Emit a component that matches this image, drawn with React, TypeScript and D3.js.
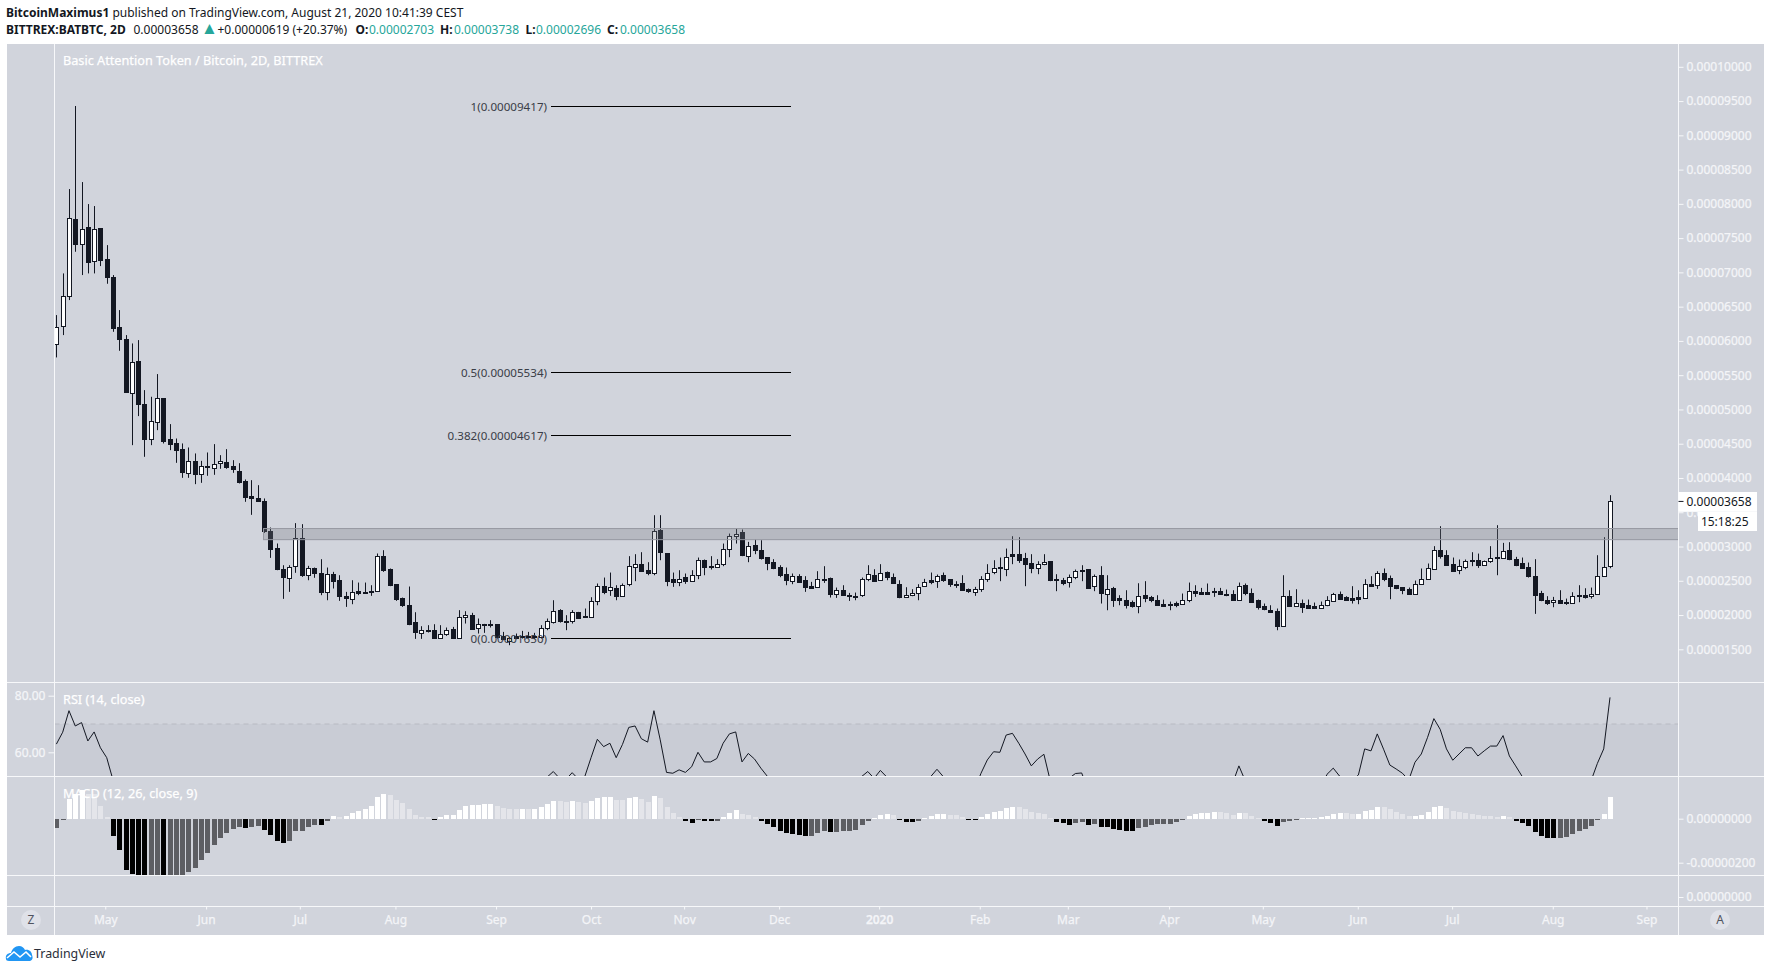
import React, { useEffect, useRef } from 'react';
import * as d3 from 'd3';

// prices are in 1e-8 BTC
const opens = [
  5963,6221,6644,7778,7408,7661,7155,7642,7189,6931,6201,6021,5243,5705,5078,4567,4805,5165,4567,4504,
  4416,4066,4241,4061,4182,4153,4212,4226,4168,4109,3954,3730,3701,3671,3229,2985,2679,2547,2703,3117,
  2591,2693,2620,2343,2606,2508,2285,2236,2353,2338,2358,2353,2868,2679,2450,2255,2153,1905,1740,1788,
  1788,1671,1725,1803,1671,1978,2007,1818,1871,1862,1862,1691,1623,1691,1691,1691,1691,1691,1812,1900,
  2071,1920,1920,2046,1983,1973,2207,2430,2367,2401,2280,2455,2703,2751,2654,2615,3238,2902,2523,2484,
  2552,2499,2586,2810,2713,2703,2747,2966,3155,3209,2863,3019,2946,2844,2771,2708,2596,2508,2576,2508,
  2430,2411,2532,2537,2309,2372,2299,2284,2294,2528,2591,2513,2635,2562,2460,2265,2294,2323,2425,2508,
  2499,2581,2523,2460,2464,2377,2338,2382,2528,2630,2698,2674,2888,2888,2829,2756,2688,2751,2785,2523,
  2508,2484,2557,2654,2669,2425,2581,2309,2391,2245,2226,2187,2134,2289,2260,2226,2167,2158,2172,2163,
  2226,2357,2343,2343,2357,2357,2313,2313,2226,2435,2328,2216,2129,2080,2066,1842,2284,2143,2182,2143,
  2129,2104,2148,2211,2314,2260,2245,2260,2250,2460,2440,2620,2537,2431,2406,2377,2314,2460,2528,2683,
  2956,2883,2752,2659,2713,2800,2800,2732,2790,2844,2834,2946,2824,2756,2698,2576,2318,2226,2197,2226,
  2197,2177,2299,2299,2284,2314,2576,2703,
];
const closes = [
  6206,6654,7788,7413,7627,7155,7627,7179,6922,6187,6031,5243,5696,5078,4567,4825,5160,4538,4494,4406,
  4075,4241,4056,4177,4172,4207,4241,4148,4119,3944,3725,3696,3662,3229,2966,2674,2557,2708,3117,2581,
  2693,2616,2338,2606,2508,2280,2250,2338,2319,2323,2338,2868,2669,2450,2226,2153,1876,1754,1784,1779,
  1667,1725,1784,1667,1973,2007,1808,1871,1857,1852,1667,1652,1667,1667,1671,1671,1671,1817,1915,2066,
  1910,1900,2046,1954,1973,2211,2430,2348,2411,2289,2445,2722,2751,2644,2615,3223,2922,2494,2484,2532,
  2494,2591,2810,2703,2698,2751,2970,3160,3189,2873,3014,2946,2829,2756,2683,2596,2508,2576,2494,2411,
  2406,2532,2523,2304,2372,2304,2280,2265,2532,2606,2508,2620,2557,2469,2265,2299,2328,2416,2484,2484,
  2576,2508,2455,2450,2362,2352,2387,2532,2620,2693,2688,2854,2859,2805,2747,2683,2751,2780,2508,2513,
  2464,2557,2649,2644,2391,2576,2318,2386,2216,2216,2158,2129,2284,2245,2216,2158,2143,2148,2143,2226,
  2353,2333,2318,2318,2338,2309,2304,2221,2430,2323,2202,2119,2080,2056,1842,2284,2143,2182,2129,2104,
  2099,2153,2216,2314,2245,2221,2221,2231,2460,2435,2620,2528,2426,2391,2367,2309,2460,2533,2693,2956,
  2873,2742,2654,2722,2795,2790,2727,2795,2839,2834,2941,2815,2742,2688,2567,2304,2216,2187,2226,2187,
  2177,2284,2280,2275,2314,2576,2708,3658,
];
const highs = [
  6377,6985,8216,9428,8318,7997,7968,7642,7398,6961,6450,6085,5963,6012,5282,5185,5516,5165,4786,4576,
  4504,4445,4358,4250,4372,4494,4333,4421,4260,4216,3978,3968,3895,3701,3277,3044,2727,2727,3341,3326,
  2718,2693,2815,2693,2630,2581,2338,2508,2474,2474,2435,2898,2946,2679,2450,2255,2416,2041,1837,1852,
  1866,1852,1818,1827,2071,2056,2032,1949,1871,1925,1862,1754,1681,1730,1769,1754,1740,1852,1949,2216,
  2085,1998,2071,2046,2095,2260,2460,2547,2620,2435,2460,2859,2888,2917,2771,3457,3457,2902,2620,2654,
  2606,2654,2839,2810,2859,2815,3043,3189,3262,3248,3068,3102,3092,2844,2815,2727,2693,2606,2596,2567,
  2484,2640,2713,2547,2401,2435,2323,2328,2547,2727,2669,2742,2635,2606,2508,2406,2377,2450,2528,2620,
  2591,2620,2523,2494,2581,2387,2411,2567,2742,2800,2839,2970,3150,3136,2907,2888,2785,2888,2785,2596,
  2542,2591,2664,2727,2669,2591,2713,2581,2411,2289,2362,2211,2464,2494,2279,2289,2226,2196,2196,2314,
  2474,2435,2396,2460,2396,2396,2372,2362,2474,2460,2387,2226,2168,2143,2095,2581,2362,2377,2226,2226,
  2182,2197,2275,2323,2343,2275,2421,2362,2523,2567,2640,2679,2576,2431,2406,2401,2503,2679,2752,3005,
  3296,2946,2839,2810,2810,2917,2897,2795,3005,3311,3053,3063,2849,2839,2766,2815,2353,2275,2265,2362,
  2240,2333,2435,2391,2401,2873,3136,3749,
];
const lows = [
  5759,6085,6596,7301,6961,6985,6985,7092,6834,6133,5856,5243,4479,4903,4309,4479,4698,4504,4406,4221,
  4002,4002,3910,3929,4032,4046,4134,4134,4075,3920,3652,3462,3652,3199,2834,2654,2236,2338,2616,2557,
  2508,2543,2290,2216,2387,2207,2119,2158,2290,2314,2280,2353,2630,2421,2207,2119,1852,1652,1652,1745,
  1652,1657,1696,1652,1667,1876,1798,1730,1740,1818,1657,1633,1560,1647,1657,1657,1647,1657,1779,1876,
  1890,1779,1876,1949,1964,1973,2143,2304,2280,2216,2280,2421,2494,2644,2581,2581,2800,2421,2411,2421,
  2455,2484,2523,2581,2664,2693,2713,2844,3043,2859,2771,2888,2810,2654,2669,2552,2435,2450,2469,2338,
  2387,2401,2469,2255,2250,2299,2206,2216,2265,2494,2494,2508,2508,2460,2245,2255,2275,2216,2411,2450,
  2396,2484,2411,2396,2362,2323,2280,2338,2484,2596,2494,2567,2742,2761,2421,2610,2596,2727,2494,2348,
  2435,2401,2523,2494,2391,2348,2168,2070,2119,2143,2095,2109,2026,2187,2187,2148,2138,2070,2114,2148,
  2187,2265,2304,2304,2265,2304,2275,2221,2216,2289,2187,2080,2070,2031,1778,1842,2129,2129,2031,2090,
  2090,2099,2129,2202,2226,2207,2168,2158,2236,2425,2382,2494,2231,2377,2304,2304,2304,2450,2518,2669,
  2824,2727,2654,2596,2669,2713,2688,2722,2761,2581,2824,2800,2713,2679,2547,2017,2202,2148,2114,2177,
  2148,2168,2187,2240,2240,2299,2567,2683,
];

// bar position of each month boundary on the time axis
const monthLabels = ['May','Jun','Jul','Aug','Sep','Oct','Nov','Dec','2020','Feb','Mar','Apr','May','Jun','Jul','Aug','Sep'];
const monthBars = [7.77,23.8,38.7,53.9,69.9,85,99.8,114.9,130.8,146.8,160.8,176.9,191.8,206.9,221.9,237.9,252.8];

// values below about 51.6 sit under the pane edge, those are rough guesses
const rsiValues = [
  62.9,67.1,74.7,69.3,70.5,64,67.2,61.6,58.1,50.2,44,40,39,37,35,37,40,35,35,34,
  33,35,34,36,36,37,38,37,36,34,32,32,32,28,26,25,25,27,36,31,
  32,32,30,32,32,30,30,32,33,33,34,46,43,40,37,36,32,30,31,31,
  30,31,33,32,38,38,35,37,36,36,33,33,33,33,33,33,33,44,51.2,53.2,
  50.8,50.4,52.8,50.5,51.4,58.1,64.6,62,63.2,58.1,62.8,68.8,69.3,64.8,63.6,74.7,64.4,52.9,52.6,53.8,
  52.9,54.9,60,56.6,56.6,57.8,63.2,66.5,67.2,56.6,59.6,57.6,54.4,51.6,48,47,46,45,46,45,
  45,46,45,42,43,42,41,41,51.4,53.2,50.8,53.6,51.3,49,46,47,47,48,49,51.4,
  54,51.4,49,48,47,46,47,52.6,57.3,60.2,60,66.1,66.7,63.2,59.4,55.2,57.6,59.3,50,48,
  48,50.8,52.5,52.7,47,47,44,45,42,41,40,40,44,43,43,42,41,41,41,42,
  44,45,45,45,45,45,44,49,55.2,50,47,45,44,43,42,48,49,47,46,46,
  46,47,52.2,54.4,51.6,50,50,52,61.2,60.5,66.5,61.1,55.5,54.1,52.6,50.2,56.5,59.4,65.3,71.9,
  68.1,61.2,57.2,59.4,61.6,61.6,58.7,60.5,62.2,62.2,65.9,58.7,55.2,51.6,48,44,44,45,45,44,
  44,46,47,47,50,56.1,61.2,79.4,
];

// MACD histogram, 1e-8 BTC. bars 13-20 run off the bottom of the pane
const macdHist = [
  -41,-5,89,112,130,112,111,58,6,-79,-142,-233,-251,-262,-270,-266,-262,-275,-270,-265,
  -258,-242,-224,-188,-156,-120,-88,-65,-47,-38,-41,-38,-33,-52,-74,-102,-111,-102,-56,-55,
  -38,-29,-30,-11,12,8,12,26,35,44,58,98,112,108,85,71,44,17,8,7,
  -3,8,17,18,39,58,62,63,67,68,58,48,44,43,44,43,44,53,67,80,
  79,76,80,76,71,80,94,98,99,85,84,94,98,89,76,103,94,53,26,8,
  -11,-20,-6,-11,-12,-11,8,26,39,21,17,8,-11,-24,-38,-56,-65,-70,-74,-79,
  -78,-65,-56,-61,-60,-56,-55,-52,-29,-11,3,17,21,17,-6,-15,-16,-11,3,12,
  21,22,17,16,8,-2,-6,8,21,30,35,48,53,52,44,30,26,21,3,-15,
  -20,-29,-20,-15,-29,-24,-38,-39,-47,-52,-56,-57,-42,-38,-29,-25,-24,-23,-15,-6,
  12,21,26,27,30,29,26,17,26,25,12,3,-11,-20,-33,-15,-11,-2,1,2,
  3,6,12,21,26,25,21,22,35,39,53,52,44,30,21,12,13,17,30,53,
  58,48,35,30,26,21,17,12,11,8,12,8,-11,-20,-33,-61,-79,-88,-89,-88,
  -83,-70,-56,-47,-33,-6,21,98,
];

const fibRatios = [1, 0.5, 0.382, 0];
const fibLevels = [9417, 5534, 4617, 1650];
const resistanceBand = [3100, 3262];
const lastClose = 3658;

const UI_FONT = '"Noto Sans", sans-serif';
const BG = '#d1d4dc';
const DARK = '#131722';
const LABEL = '#f4f5f8';

const App: React.FC = () => {
  const svgRef = useRef<SVGSVGElement>(null);

  useEffect(() => {
    if (!svgRef.current) return;
    const svg = d3.select(svgRef.current);
    svg.selectAll('*').remove();

    const left = 7, plotLeft = 54.5, plotRight = 1678.5, right = 1764;
    const top = 44, mainBottom = 682.5, rsiBottom = 776.5, macdBottom = 875.5, lowerBottom = 906.5, axisBottom = 935;

    const x = d3.scaleLinear().domain([0, opens.length - 1]).range([56.4, 1610]);
    const y = d3.scaleLinear().domain([1500, 10000]).range([649.3, 66.8]);
    const yRsi = d3.scaleLinear().domain([60, 80]).range([752.3, 695.7]);
    const yMacd = d3.scaleLinear().domain([-200, 0]).range([862.7, 818.7]);
    const yLower = d3.scaleLinear().domain([0, 1]).range([897, 880]);
    const px = (i: number) => Math.round(x(i));

    svg.append('rect').attr('x', left).attr('y', top).attr('width', right - left).attr('height', axisBottom - top).attr('fill', BG);

    const defs = svg.append('defs');
    const clip = (id: string, y0: number, y1: number) => defs.append('clipPath').attr('id', id)
      .append('rect').attr('x', plotLeft).attr('y', y0).attr('width', plotRight - plotLeft).attr('height', y1 - y0);
    clip('rsiClip', mainBottom, rsiBottom);
    clip('macdClip', rsiBottom, macdBottom);

    // candles
    const indices = d3.range(opens.length);
    const candles = svg.append('g');
    candles.selectAll('line').data(indices).join('line')
      .attr('x1', i => px(i) + 0.5).attr('x2', i => px(i) + 0.5)
      .attr('y1', i => y(highs[i])).attr('y2', i => y(lows[i]))
      .attr('stroke', DARK).attr('stroke-width', 1);
    candles.selectAll('rect').data(indices).join('rect')
      .attr('x', i => px(i) - 1.5).attr('width', 4)
      .attr('y', i => Math.round(y(Math.max(opens[i], closes[i]))) + 0.5)
      .attr('height', i => Math.max(1, Math.round(Math.abs(y(opens[i]) - y(closes[i])))))
      .attr('fill', i => closes[i] >= opens[i] ? '#ffffff' : DARK)
      .attr('stroke', DARK).attr('stroke-width', 1);

    // resistance zone sits above the candles
    svg.append('rect')
      .attr('x', 263.5).attr('width', plotRight - 263.5)
      .attr('y', y(resistanceBand[1])).attr('height', y(resistanceBand[0]) - y(resistanceBand[1]))
      .attr('fill', '#787b86').attr('fill-opacity', 0.3)
      .attr('stroke', '#9598a1').attr('stroke-width', 1);

    // fib levels
    const fib = svg.append('g');
    fib.selectAll('line').data(fibLevels).join('line')
      .attr('x1', 551).attr('x2', 791)
      .attr('y1', d => Math.round(y(d)) - 0.5).attr('y2', d => Math.round(y(d)) - 0.5)
      .attr('stroke', '#000').attr('stroke-width', 1);
    fib.selectAll('text').data(fibLevels).join('text')
      .attr('x', 547).attr('y', d => y(d)).attr('dy', '0.35em')
      .attr('text-anchor', 'end').attr('font-family', UI_FONT).attr('font-size', 11.6).attr('fill', '#3a3d47')
      .text((d, i) => `${fibRatios[i]}(${(d / 1e8).toFixed(8)})`);

    // RSI pane
    svg.append('rect').attr('x', plotLeft).attr('width', plotRight - plotLeft)
      .attr('y', yRsi(70)).attr('height', rsiBottom - yRsi(70)).attr('fill', '#c9ccd5');
    svg.append('line').attr('x1', plotLeft).attr('x2', plotRight)
      .attr('y1', yRsi(70)).attr('y2', yRsi(70))
      .attr('stroke', '#b8bac3').attr('stroke-dasharray', '5 4');
    const rsiLine = d3.line<number>().x((_, i) => x(i)).y(d => yRsi(d));
    svg.append('path').datum(rsiValues)
      .attr('d', rsiLine).attr('fill', 'none').attr('stroke', DARK).attr('stroke-width', 1)
      .attr('clip-path', 'url(#rsiClip)');

    // MACD histogram
    const tone = (i: number) => {
      const v = macdHist[i];
      const prev = i > 0 ? macdHist[i - 1] : v;
      if (v >= 0) return v >= prev ? '#ffffff' : '#e4e5ea';
      return v < prev ? '#000000' : '#5d5e63';
    };
    svg.append('g').attr('clip-path', 'url(#macdClip)').attr('shape-rendering', 'crispEdges')
      .selectAll('rect').data(indices).join('rect')
      .attr('x', i => px(i) - 2).attr('width', 5)
      .attr('y', i => Math.min(yMacd(macdHist[i]), yMacd(0)))
      .attr('height', i => Math.max(1, Math.abs(yMacd(macdHist[i]) - yMacd(0))))
      .attr('fill', i => tone(i));

    // pane separators
    const grid = svg.append('g').attr('stroke', '#f7f8fa').attr('stroke-width', 1);
    [mainBottom, rsiBottom, macdBottom, lowerBottom].forEach(v => {
      grid.append('line').attr('x1', left).attr('x2', right).attr('y1', v).attr('y2', v);
    });
    [plotLeft, plotRight].forEach(v => {
      grid.append('line').attr('x1', v).attr('x2', v).attr('y1', top).attr('y2', axisBottom);
    });

    const styleAxis = (g: d3.Selection<SVGGElement, unknown, null, undefined>) => {
      g.select('.domain').remove();
      g.selectAll('.tick line').attr('stroke', '#f7f8fa');
      g.selectAll('.tick text').attr('fill', LABEL).attr('stroke', LABEL).attr('stroke-width', 0.25)
        .attr('font-family', UI_FONT).attr('font-size', 12);
    };

    // price axes on the right
    const fmtPrice = (v: d3.NumberValue) => (+v / 1e8).toFixed(8);
    const priceAxis = d3.axisRight(y).tickValues(d3.range(1500, 10001, 500)).tickFormat(fmtPrice).tickSize(5).tickPadding(3);
    svg.append('g').attr('transform', `translate(${plotRight},0)`).call(priceAxis).call(styleAxis);

    const macdAxis = d3.axisRight(yMacd).tickValues([0, -200]).tickFormat(fmtPrice as any).tickSize(5).tickPadding(3);
    svg.append('g').attr('transform', `translate(${plotRight},0)`).call(macdAxis).call(styleAxis);

    const lowerAxis = d3.axisRight(yLower).tickValues([0]).tickFormat(fmtPrice as any).tickSize(5).tickPadding(3);
    svg.append('g').attr('transform', `translate(${plotRight},0)`).call(lowerAxis).call(styleAxis);

    // RSI axis on the left
    const rsiAxis = d3.axisLeft(yRsi).tickValues([60, 80]).tickFormat(d => (+d).toFixed(2)).tickSize(6).tickPadding(3);
    svg.append('g').attr('transform', `translate(${plotLeft},0)`).call(rsiAxis).call(styleAxis);

    // time axis
    const timeAxis = d3.axisBottom(x).tickValues(monthBars).tickFormat((_, i) => monthLabels[i]).tickSize(3).tickPadding(6);
    const timeG = svg.append('g').attr('transform', `translate(0,${lowerBottom})`).call(timeAxis).call(styleAxis);
    timeG.selectAll('.tick text').attr('font-weight', (_, i) => monthLabels[i] === '2020' ? 600 : 400);

    // last price and countdown boxes
    svg.append('rect').attr('x', plotRight).attr('y', 492).attr('width', 78.5).attr('height', 19).attr('fill', '#fff');
    svg.append('line').attr('x1', plotRight).attr('x2', plotRight + 5)
      .attr('y1', y(lastClose)).attr('y2', y(lastClose)).attr('stroke', DARK);
    svg.append('text').attr('x', plotRight + 8).attr('y', y(lastClose)).attr('dy', '0.35em')
      .attr('font-family', UI_FONT).attr('font-size', 12).attr('fill', DARK).text((lastClose / 1e8).toFixed(8));
    svg.append('line').attr('x1', plotRight).attr('x2', 1757).attr('y1', 511.5).attr('y2', 511.5).attr('stroke', '#f7f8fa');
    svg.append('rect').attr('x', 1698).attr('y', 512).attr('width', 59).attr('height', 19).attr('fill', '#fff');
    svg.append('text').attr('x', 1748.5).attr('y', 521.5).attr('dy', '0.35em').attr('text-anchor', 'end')
      .attr('font-family', UI_FONT).attr('font-size', 12).attr('fill', DARK).text('15:18:25');

    // watermark style pane titles
    const title = (txt: string, ty: number) => svg.append('text').attr('x', 63).attr('y', ty).attr('dy', '0.35em')
      .attr('font-family', UI_FONT).attr('font-size', 12.7).attr('fill', '#ffffff')
      .attr('stroke', '#ffffff').attr('stroke-width', 0.25).text(txt);
    title('Basic Attention Token / Bitcoin, 2D, BITTREX', 61);
    title('RSI (14, close)', 700);
    title('MACD (12, 26, close, 9)', 794);

    // scale mode buttons
    [['Z', 31], ['A', 1720]].forEach(([t, cx]) => {
      svg.append('circle').attr('cx', cx as number).attr('cy', 920).attr('r', 10).attr('fill', '#dfe1e8');
      svg.append('text').attr('x', cx as number).attr('y', 920).attr('dy', '0.35em').attr('text-anchor', 'middle')
        .attr('font-family', UI_FONT).attr('font-size', 12).attr('fill', '#50535e').text(t as string);
    });

    // header
    const head1 = svg.append('text').attr('x', 6).attr('y', 17).attr('font-family', UI_FONT).attr('font-size', 12).attr('fill', DARK);
    head1.append('tspan').attr('font-weight', 700).text('BitcoinMaximus1');
    head1.append('tspan').text(' published on TradingView.com, August 21, 2020 10:41:39 CEST');

    const teal = '#26a69a';
    const parts: [string, number, boolean, string, number][] = [
      ['BITTREX:BATBTC, 2D', 6, true, DARK, 12], ['0.00003658', 133.5, false, DARK, 12], ['\u25B2', 201, false, teal, 17],
      ['+0.00000619 (+20.37%)', 217.5, false, DARK, 12],
      ['O:', 355.5, true, DARK, 12], ['0.00002703', 369, false, teal, 12], ['H:', 440, true, DARK, 12], ['0.00003738', 454, false, teal, 12],
      ['L:', 525.5, true, DARK, 12], ['0.00002696', 536, false, teal, 12], ['C:', 607, true, DARK, 12], ['0.00003658', 620, false, teal, 12],
    ];
    svg.append('g').attr('font-family', UI_FONT)
      .selectAll('text').data(parts).join('text')
      .attr('x', d => d[1]).attr('y', 34)
      .attr('font-size', d => d[4])
      .attr('font-weight', d => d[2] ? 700 : 400)
      .attr('fill', d => d[3])
      .text(d => d[0]);

    // TradingView logo
    const logo = svg.append('g').attr('transform', 'translate(6,946)');
    logo.append('path')
      .attr('d', 'M0 13 C-1 9 2 7 5 7 C6 3 9 0 13 0 C16 0 18 2 19 4 C23 3 26 6 26 9 C27 11 27 14 24 15 L3 15 C1 15 0 14 0 13 Z')
      .attr('fill', '#2196f3');
    logo.append('path').attr('d', 'M1 12 L8 6 L14 11 L20 6 L25 11').attr('fill', 'none').attr('stroke', '#fff').attr('stroke-width', 1.6);
    svg.append('text').attr('x', 34).attr('y', 958).attr('font-family', UI_FONT).attr('font-size', 12.4).attr('fill', '#2a2e39').text('TradingView');
  }, []);

  return (
    <svg
      ref={svgRef}
      width={1771}
      height={972}
      style={{ position: 'absolute', left: 0, top: 0, background: '#ffffff' }}
    />
  );
};

export default App;
